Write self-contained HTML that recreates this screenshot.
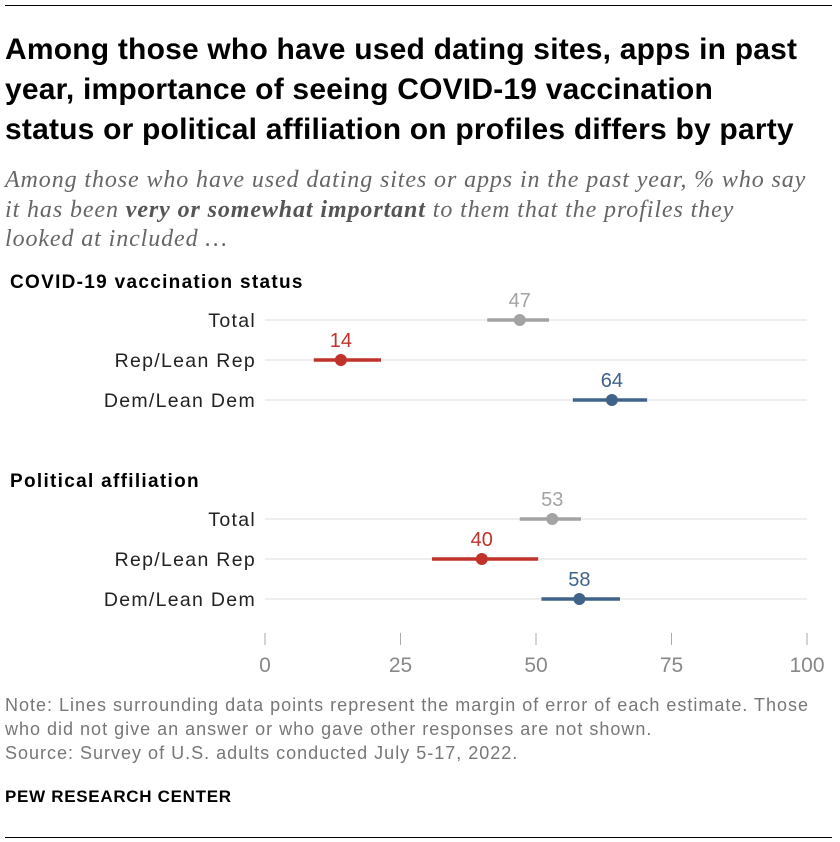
<!DOCTYPE html>
<html><head><meta charset="utf-8"><style>
body{margin:0;background:#fff;width:840px;height:842px;overflow:hidden;font-family:"Liberation Sans",sans-serif;position:relative}
.t{position:absolute;left:5px;top:30px;font-weight:bold;font-size:30px;letter-spacing:0.2px;line-height:40px;color:#000;white-space:nowrap}
.s{position:absolute;left:5px;top:166px;font-family:"Liberation Serif",serif;font-style:italic;font-size:24px;letter-spacing:0.9px;line-height:29.5px;color:#666;white-space:nowrap}
.n{position:absolute;left:5px;top:693px;font-size:18px;letter-spacing:1px;line-height:24px;color:#777;white-space:nowrap}
.p{position:absolute;left:5px;top:787px;font-weight:bold;font-size:17px;letter-spacing:0.7px;color:#000}
.hr{position:absolute;left:5px;width:827px;height:1px;background:#000}
</style></head><body>
<div class="hr" style="top:5px"></div>
<div class="t">Among those who have used dating sites, apps in past<br>year, importance of seeing COVID-19 vaccination<br>status or political affiliation on profiles differs by party</div>
<div class="s">Among those who have used dating sites or apps in the past year, % who say<br>it has been <b style="color:#555">very or somewhat important</b> to them that the profiles they<br>looked at included …</div>
<svg id="c" width="840" height="842" style="position:absolute;left:0;top:0"></svg>
<div class="n">Note: Lines surrounding data points represent the margin of error of each estimate. Those<br>who did not give an answer or who gave other responses are not shown.<br>Source: Survey of U.S. adults conducted July 5-17, 2022.</div>
<div class="p">PEW RESEARCH CENTER</div>
<div class="hr" style="top:837px"></div>
<script>
const groups=["COVID-19 vaccination status","Political affiliation"];
const rows=["Total","Rep/Lean Rep","Dem/Lean Dem"];
const values=[[47,14,64],[53,40,58]];
const lows=[[41,9,56.8],[47,30.8,51]];
const highs=[[52.4,21.4,70.5],[58.3,50.4,65.5]];
const ticks=[0,25,50,75,100];
const colors=["#a3a3a3","#c0322a","#3f6389"];
const svg=document.getElementById('c');const NS="http://www.w3.org/2000/svg";
const x=v=>265+v*5.42;
function mk(t,a,txt){const e=document.createElementNS(NS,t);for(const k in a)e.setAttribute(k,a[k]);if(txt!==undefined)e.textContent=txt;svg.appendChild(e);return e;}
groups.forEach((g,gi)=>{
 const base=gi*199;
 const h=mk('text',{x:10,y:288+base,'font-size':19,'letter-spacing':1.3,'font-weight':'bold',fill:'#000'},g);
 
 
 rows.forEach((r,ri)=>{
  const y=320+base+ri*40;
  const gl=mk('line',{x1:265,x2:807,y1:y,y2:y,stroke:'#ddd','stroke-width':1});
  
  
  const lb=mk('text',{x:256,y:y+7,'font-size':19.5,'letter-spacing':1.3,'text-anchor':'end',fill:'#222'},r);
  
  
  const eb=mk('line',{x1:x(lows[gi][ri]),x2:x(highs[gi][ri]),y1:y,y2:y,stroke:colors[ri],'stroke-width':3.5});
  
  
  const d=mk('circle',{cx:x(values[gi][ri]),cy:y,r:6,fill:colors[ri]});
  
  
  const v=mk('text',{x:x(values[gi][ri]),y:y-13,'font-size':20,'text-anchor':'middle',fill:colors[ri]},values[gi][ri]);
  
  
 });
});
ticks.forEach(t=>{
 const tm=mk('line',{x1:x(t),x2:x(t),y1:633,y2:645,stroke:'#aaa','stroke-width':1});
 
 
 const tl=mk('text',{x:x(t),y:672,'font-size':21,'text-anchor':'middle',fill:'#888'},t);
 
 
});
</script>
</body></html>
